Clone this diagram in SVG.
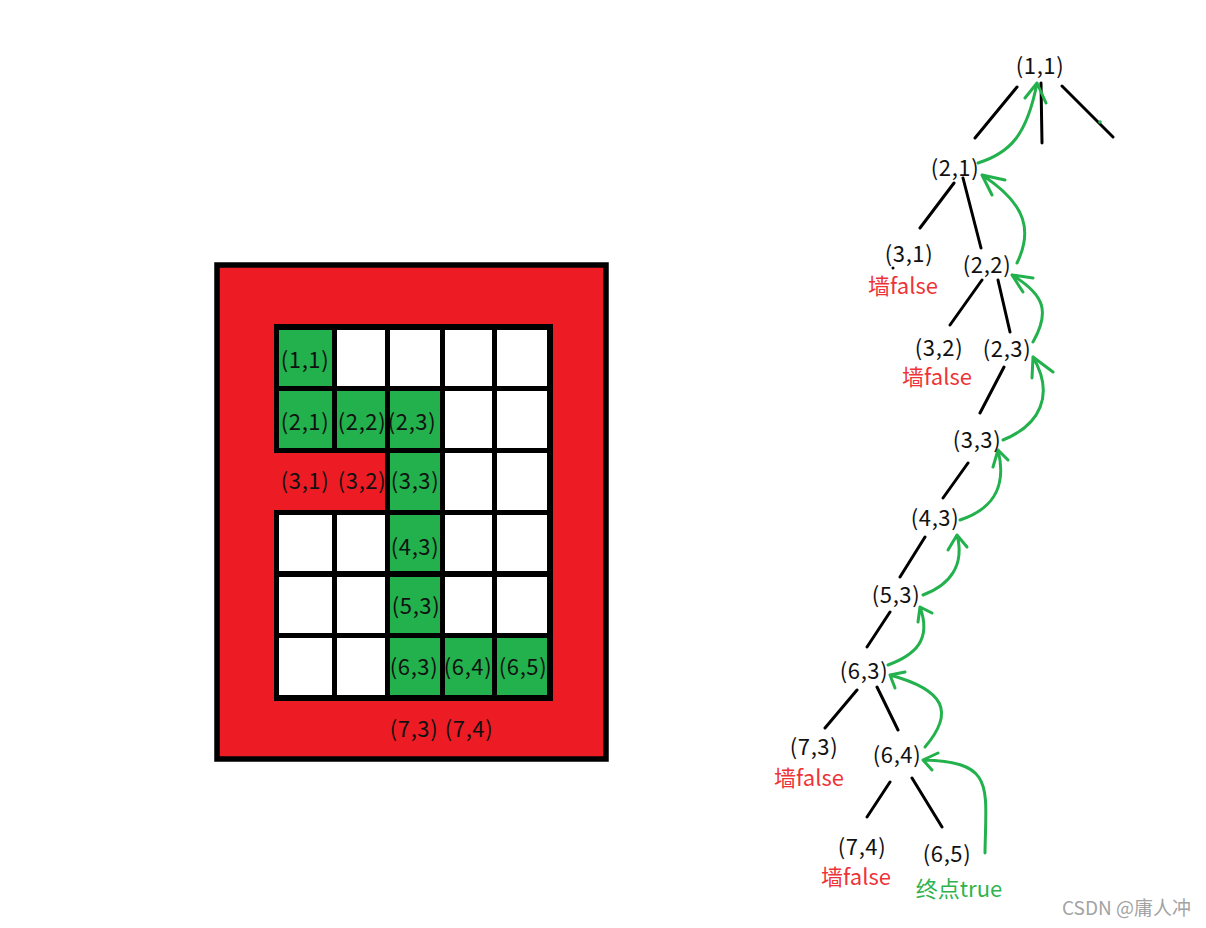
<svg xmlns="http://www.w3.org/2000/svg" width="1206" height="928" viewBox="0 0 1206 928">
<style>
text{font-family:"Noto Sans CJK SC","Microsoft YaHei","Noto Sans",sans-serif;font-size:22px;text-anchor:middle;fill:#111;letter-spacing:0.6px}
.red{fill:#ee3338;letter-spacing:0}
.grn{fill:#2fb34f;letter-spacing:0}
.wm{fill:#a3a3a3;font-size:19px;text-anchor:end;letter-spacing:0}
.edge{stroke:#000;stroke-width:3;fill:none;stroke-linecap:round}
.ret{stroke:#22b14c;stroke-width:3;fill:none;stroke-linecap:round;stroke-linejoin:round}
.g{fill:#22b14c}
.w{fill:#fff}
</style>
<rect width="1206" height="928" fill="#fff"/>
<g id="maze">
<rect x="217" y="265" width="389" height="494" fill="#ed1c24" stroke="#000" stroke-width="5.5"/>
<rect x="274" y="324" width="279" height="129" fill="#000"/>
<rect x="385" y="448" width="168" height="67" fill="#000"/>
<rect x="274" y="510" width="279" height="191" fill="#000"/>
<rect class="g" x="279" y="330" width="53" height="56"/>
<rect class="w" x="337" y="330" width="48" height="56"/>
<rect class="w" x="390" y="330" width="50" height="56"/>
<rect class="w" x="445" y="330" width="47" height="56"/>
<rect class="w" x="497" y="330" width="50" height="56"/>
<rect class="g" x="279" y="391" width="53" height="57"/>
<rect class="g" x="337" y="391" width="48" height="57"/>
<rect class="g" x="390" y="391" width="50" height="57"/>
<rect class="w" x="445" y="391" width="47" height="57"/>
<rect class="w" x="497" y="391" width="50" height="57"/>
<rect class="g" x="390" y="453" width="50" height="57"/>
<rect class="w" x="445" y="453" width="47" height="57"/>
<rect class="w" x="497" y="453" width="50" height="57"/>
<rect class="w" x="279" y="515" width="53" height="56"/>
<rect class="w" x="337" y="515" width="48" height="56"/>
<rect class="g" x="390" y="515" width="50" height="56"/>
<rect class="w" x="445" y="515" width="47" height="56"/>
<rect class="w" x="497" y="515" width="50" height="56"/>
<rect class="w" x="279" y="577" width="53" height="56"/>
<rect class="w" x="337" y="577" width="48" height="56"/>
<rect class="g" x="390" y="577" width="50" height="56"/>
<rect class="w" x="445" y="577" width="47" height="56"/>
<rect class="w" x="497" y="577" width="50" height="56"/>
<rect class="w" x="279" y="638" width="53" height="57"/>
<rect class="w" x="337" y="638" width="48" height="57"/>
<rect class="g" x="390" y="638" width="50" height="57"/>
<rect class="g" x="445" y="638" width="47" height="57"/>
<rect class="g" x="497" y="638" width="50" height="57"/>
<text x="305" y="368">(1,1)</text>
<text x="305" y="430">(2,1)</text>
<text x="362" y="430">(2,2)</text>
<text x="412" y="430">(2,3)</text>
<text x="305" y="489">(3,1)</text>
<text x="362" y="489">(3,2)</text>
<text x="415" y="489">(3,3)</text>
<text x="415" y="555">(4,3)</text>
<text x="416" y="614">(5,3)</text>
<text x="414" y="675">(6,3)</text>
<text x="468" y="675">(6,4)</text>
<text x="523" y="675">(6,5)</text>
<text x="414" y="737">(7,3)</text>
<text x="469" y="737">(7,4)</text>
</g>
<g id="connectors">
<path class="edge" d="M1017,87L975,138M1041,83L1042,143M1062,86L1113,137M954,183L920,228M963,178L981,248M982,280L950,325M998,280L1010,332M1004,367L980,413M968,463L943,498M925,537L900,577M890,612L867,647M857,690L825,728M877,687L898,730M890,782L867,817M912,778L942,827"/>
<circle cx="1100" cy="122" r="1.8" fill="#22b14c"/>
<circle cx="893" cy="268" r="1.5" fill="#000"/>
<path class="ret" d="M978,163C1010,153 1027,135 1037,83M1025,98L1037,83L1046,103"/>
<path class="ret" d="M1017,263C1032,232 1028,205 982,175M992,195L982,175L1005,180"/>
<path class="ret" d="M1033,342C1050,312 1045,295 1012,275M1023,292L1012,275L1033,278"/>
<path class="ret" d="M1003,440C1040,425 1055,395 1033,357M1032,378L1033,357L1053,372"/>
<path class="ret" d="M960,520C990,510 1008,490 998,450M993,467L998,450L1008,460"/>
<path class="ret" d="M923,595C950,585 965,565 957,535M948,550L957,535L967,547"/>
<path class="ret" d="M888,665C915,655 932,640 920,607M918,622L920,607L932,613"/>
<path class="ret" d="M925,747C955,712 945,690 890,675M895,688L890,675L905,672"/>
<path class="ret" d="M985,853C986,785 995,762 923,760M932,770L923,760L938,753"/>
</g>
<g id="n11"><text x="1040" y="74">(1,1)</text></g>
<g id="n21"><text x="955" y="176">(2,1)</text></g>
<g id="n31"><text x="909" y="262">(3,1)</text><text class="red" x="903" y="294">墙false</text></g>
<g id="n22"><text x="987" y="273">(2,2)</text></g>
<g id="n32"><text x="939" y="356">(3,2)</text><text class="red" x="937" y="385">墙false</text></g>
<g id="n23"><text x="1007" y="357">(2,3)</text></g>
<g id="n33"><text x="977" y="448">(3,3)</text></g>
<g id="n43"><text x="935" y="526">(4,3)</text></g>
<g id="n53"><text x="896" y="603">(5,3)</text></g>
<g id="n63"><text x="864" y="679">(6,3)</text></g>
<g id="n73"><text x="814" y="755">(7,3)</text><text class="red" x="809" y="786">墙false</text></g>
<g id="n64"><text x="897" y="763">(6,4)</text></g>
<g id="n74"><text x="862" y="855">(7,4)</text><text class="red" x="856" y="885">墙false</text></g>
<g id="n65"><text x="947" y="862">(6,5)</text><text class="grn" x="959" y="897">终点true</text></g>
<text class="wm" x="1191" y="915">CSDN @庸人冲</text>
</svg>
